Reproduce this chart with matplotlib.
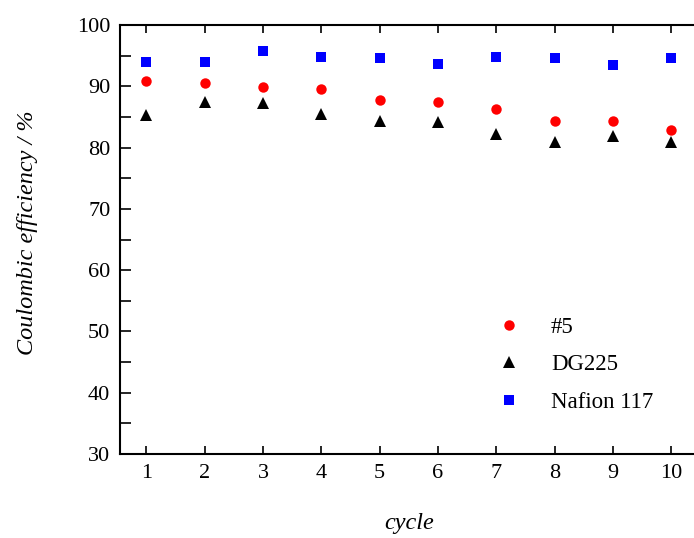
import matplotlib
matplotlib.use("Agg")
import matplotlib.pyplot as plt
from matplotlib.ticker import MultipleLocator

plt.rcParams['font.family'] = ['Liberation Serif', 'DejaVu Serif']

cycles = [1, 2, 3, 4, 5, 6, 7, 8, 9, 10]
s5 = [90.8, 90.5, 89.9, 89.5, 87.8, 87.5, 86.3, 84.4, 84.4, 82.8]
dg225 = [85.4, 87.5, 87.2, 85.5, 84.3, 84.2, 82.2, 80.9, 81.9, 80.9]
nafion = [94.0, 93.9, 95.7, 94.8, 94.6, 93.6, 94.8, 94.7, 93.4, 94.6]
labels = ['#5', 'DG225', 'Nafion 117']

fig = plt.figure(figsize=(6.94, 5.38), dpi=100)
ax = fig.add_axes([0.173, 0.156, 0.832, 0.7975])

ax.plot(cycles, s5, 'o', color='#ff0000', ms=7.5, mew=0, label=labels[0])
ax.plot(cycles, dg225, '^', color='black', ms=8.7, mew=0, label=labels[1])
ax.plot(cycles, nafion, 's', color='#0000ff', ms=6.6, mew=0, label=labels[2])

ax.set_xlim(0.55, 10.45)
ax.set_ylim(30, 100)
ax.xaxis.set_major_locator(MultipleLocator(1))
ax.yaxis.set_major_locator(MultipleLocator(10))
ax.yaxis.set_minor_locator(MultipleLocator(5))

for sp in ax.spines.values():
    sp.set_linewidth(1.5)
ax.spines['right'].set_visible(False)

ax.tick_params(axis='both', which='both', direction='in', labelsize=16,
               width=1.2, length=8, pad=7)
ax.tick_params(axis='x', top=True, length=6)
ax.tick_params(axis='y', which='minor', length=8)

ax.set_xlabel('cycle', fontsize=17.5, style='italic', labelpad=22)
ax.set_ylabel('Coulombic efficiency / %', fontsize=17.5, style='italic')
ax.yaxis.set_label_coords(-0.142, 0.517)

leg = ax.legend(loc='upper left', bbox_to_anchor=(0.643, 0.320), frameon=False,
                fontsize=16.5, labelspacing=0.72, handletextpad=1.1,
                handlelength=1.5, borderpad=0, borderaxespad=0)

fig.savefig('out.png', dpi=100)
